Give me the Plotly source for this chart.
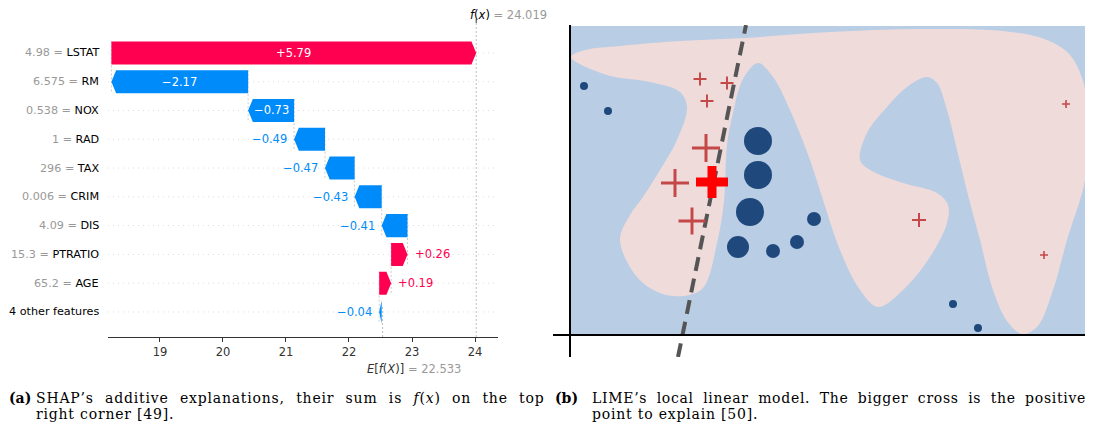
import plotly.graph_objects as go

# ---------------- SHAP waterfall data ----------------
features = ["LSTAT", "RM", "NOX", "RAD", "TAX", "CRIM", "DIS", "PTRATIO", "AGE", "4 other features"]
feature_values = ["4.98", "6.575", "0.538", "1", "296", "0.006", "4.09", "15.3", "65.2", ""]
shap_values = [5.79, -2.17, -0.73, -0.49, -0.47, -0.43, -0.41, 0.26, 0.19, -0.04]
base_value = 22.533
fx_value = 24.019
x_ticks = [19, 20, 21, 22, 23, 24]

# ---------------- LIME illustration data ----------------
region_x = [1, 15, 50, 110, 175, 260, 350, 433, 477, 500, 513, 518, 518, 514, 497, 483, 467, 452, 437, 423,
            410, 398, 387, 377, 367, 357, 337, 317, 297, 290, 300, 333, 367, 378, 377, 360, 333, 308, 290, 270,
            253, 240, 220, 203, 188, 173, 163, 157, 154, 147, 133, 113, 90, 67, 50, 60, 73, 90, 107, 117,
            110, 80, 37]
region_y = [278, 285, 289, 294, 297, 303, 306, 304, 295, 280, 254, 220, 185, 150, 95, 45, 8, 1, 14, 45,
            95, 140, 185, 225, 252, 258, 248, 228, 202, 175, 165, 152, 142, 130, 112, 78, 45, 28, 45, 85,
            135, 175, 225, 258, 272, 256, 222, 190, 134, 92, 47, 39, 42, 58, 95, 120, 138, 165, 195, 228,
            243, 253, 260]
neg_x = [14, 38, 188, 188, 180, 168, 203, 227, 244, 383, 408]
neg_y = [249, 224, 194, 160, 123, 88, 84, 93, 116, 31, 7]
neg_weight = [4, 4, 14, 14, 14, 11, 7, 7, 7, 4, 4]
pos_x = [130, 157, 137, 136, 105, 122, 349, 474, 496]
pos_y = [256, 252, 234, 187, 152, 114, 115, 80, 231]
pos_weight = [13, 13, 13, 28, 28, 27, 14, 8, 8]
explained_x = [142]
explained_y = [153]
explained_weight = [32]
linear_x = [108, 176]
linear_y = [-22, 310]

PINK = "#ff0051"
BLUE = "#008bfb"
OFF = 8                      # page body margin
W, H = 1093 - OFF, 427 - OFF


def px(x):
    return (x - OFF) / W


def py(y):
    return 1 - (y - OFF) / H


fig = go.Figure()

# ---------- left panel ----------
n = len(features)
rows = list(range(n - 1, -1, -1))
HL = 0.075
HALF = 0.4
loc = fx_value
starts, ends = [], []
for v in shap_values:
    ends.append(loc)
    starts.append(loc - v)
    loc -= v

for i, v in enumerate(shap_values):
    s, e, y = starts[i], ends[i], rows[i]
    hl = min(abs(v), HL)
    d = hl if v > 0 else -hl
    xs = [s, e - d, e, e - d, s, s]
    ys = [y - HALF, y - HALF, y, y + HALF, y + HALF, y - HALF]
    col = PINK if v > 0 else BLUE
    fig.add_trace(go.Scatter(x=xs, y=ys, fill="toself", fillcolor=col, mode="lines",
                             line=dict(width=0, color=col), hoverinfo="skip", showlegend=False,
                             xaxis="x", yaxis="y"))
    txt = ("+" if v > 0 else "\u2212") + f"{abs(v):.2f}"
    if abs(v) > 0.6:
        fig.add_annotation(x=(s + e) / 2, y=y, xref="x", yref="y", text=txt, showarrow=False,
                           xanchor="center", yanchor="middle",
                           font=dict(size=11.5, color="white"))
    else:
        fig.add_annotation(x=e, y=y, xref="x", yref="y", text=txt, showarrow=False,
                           xanchor="left" if v > 0 else "right", yanchor="middle",
                           xshift=5 if v > 0 else -5,
                           font=dict(size=11.5, color=col))
    fig.add_shape(type="line", xref="x domain", yref="y", x0=0, x1=1, y0=y, y1=y,
                  line=dict(color="#dddddd", width=1, dash="1px,4px"), layer="below")
    if i < n - 1:
        fig.add_shape(type="line", xref="x", yref="y", x0=starts[i], x1=starts[i],
                      y0=y + HALF, y1=y - 1 - HALF,
                      line=dict(color="#cccccc", width=1, dash="2px,2px"), layer="below")
    label = (f"<span style='color:#999999'>{feature_values[i]} = </span>{features[i]}"
             if feature_values[i] else features[i])
    fig.add_annotation(x=0, y=y, xref="x domain", yref="y", text=label, showarrow=False,
                       xanchor="right", yanchor="middle", xshift=-7,
                       font=dict(size=11.2, color="black"))

fig.add_shape(type="line", xref="x", yref="y domain", x0=fx_value, x1=fx_value, y0=0, y1=1,
              line=dict(color="#bbbbbb", width=1, dash="2px,2px"), layer="below")
fig.add_shape(type="line", xref="x", yref="y domain", x0=base_value, x1=base_value, y0=0, y1=1 / n,
              line=dict(color="#bbbbbb", width=1, dash="2px,2px"), layer="below")
fig.add_shape(type="line", xref="x", yref="y domain", x0=fx_value, x1=fx_value, y0=1, y1=1.012,
              line=dict(color="#333333", width=1))
fig.add_annotation(x=fx_value, y=py(15), xref="x", yref="paper", xanchor="left", yanchor="middle",
                   xshift=-8,
                   text="<i>f</i>(<i>x</i>) <span style='color:#999999'>= 24.019</span>",
                   showarrow=False, font=dict(size=11.5, color="black"))
fig.add_annotation(x=base_value, y=py(369), xref="x", yref="paper", xanchor="left", yanchor="middle",
                   xshift=-18,
                   text="<i>E</i>[<i>f</i>(<i>X</i>)] <span style='color:#999999'>= 22.533</span>",
                   showarrow=False, font=dict(size=11.5, color="#333333"))

# ---------- right panel ----------
fig.add_shape(type="rect", xref="x2", yref="y2", x0=0, x1=519, y0=0, y1=309,
              fillcolor="#b9cde4", line=dict(width=0), layer="below")
fig.add_trace(go.Scatter(x=region_x + region_x[:1], y=region_y + region_y[:1], fill="toself",
                         fillcolor="#f0dbdb", mode="lines",
                         line=dict(width=0, shape="spline", smoothing=1, color="#f0dbdb"),
                         hoverinfo="skip", showlegend=False, xaxis="x2", yaxis="y2"))
fig.add_trace(go.Scatter(x=linear_x, y=linear_y, mode="lines",
                         line=dict(color="#555555", width=4, dash="14px,8px"),
                         hoverinfo="skip", showlegend=False, xaxis="x2", yaxis="y2"))
fig.add_trace(go.Scatter(x=neg_x, y=neg_y, mode="markers", opacity=1,
                         marker=dict(color="#1f497d", opacity=1, size=[2 * w for w in neg_weight],
                                     line=dict(width=0)),
                         hoverinfo="skip", showlegend=False, xaxis="x2", yaxis="y2"))
fig.add_trace(go.Scatter(x=pos_x, y=pos_y, mode="markers", opacity=1,
                         marker=dict(symbol="cross-thin", opacity=1, size=[w / 1.4 for w in pos_weight],
                                     line=dict(color="#c44848", width=[1 + w / 14 for w in pos_weight])),
                         hoverinfo="skip", showlegend=False, xaxis="x2", yaxis="y2"))
fig.add_trace(go.Scatter(x=explained_x, y=explained_y, mode="markers", opacity=1,
                         marker=dict(symbol="cross-thin", opacity=1,
                                     size=[w / 1.4 for w in explained_weight],
                                     line=dict(color="#ff0000", width=9)),
                         hoverinfo="skip", showlegend=False, xaxis="x2", yaxis="y2"))
fig.add_shape(type="line", xref="x2", yref="y2 domain", x0=0, x1=0, y0=0, y1=1,
              line=dict(color="black", width=2), layer="above")
fig.add_shape(type="line", xref="x2 domain", yref="y2", x0=0, x1=1, y0=0, y1=0,
              line=dict(color="black", width=2), layer="above")

# ---------- captions ----------
cap_font = dict(family="DejaVu Serif", size=14, color="black")


def caption(x, y, text):
    fig.add_annotation(x=px(x), y=py(y), xref="paper", yref="paper", xanchor="left", yanchor="middle",
                       text=text, showarrow=False, font=cap_font)


caption(7, 398, "<b>(a)</b>")
caption(34, 398, "<span style='letter-spacing:0.8px;word-spacing:6.1px'>SHAP\u2019s additive explanations, "
                 "their sum is <i>f</i>(<i>x</i>) on the top</span>")
caption(34, 414, "<span style='letter-spacing:0.8px'>right corner [49].</span>")
caption(553, 398, "<b>(b)</b>")
caption(590, 398, "<span style='letter-spacing:0.7px;word-spacing:4.3px'>LIME\u2019s local linear model. "
                  "The bigger cross is the positive</span>")
caption(590, 414, "<span style='letter-spacing:0.8px'>point to explain [50].</span>")

fig.update_layout(
    width=W, height=H, margin=dict(l=0, r=0, t=0, b=0),
    paper_bgcolor="white", plot_bgcolor="white",
    font=dict(family="DejaVu Sans", color="black"),
    showlegend=False,
    xaxis=dict(domain=[px(108), px(498)], range=[18.175, 24.365], tickvals=x_ticks, ticks="outside",
               ticklen=4, tickcolor="#333333", showline=True, linecolor="#333333", linewidth=1,
               showgrid=False, zeroline=False, tickfont=dict(size=11.5, color="#333333"), anchor="y"),
    yaxis=dict(domain=[py(337), py(23)], range=[-0.87, 10.04], visible=False, anchor="x"),
    xaxis2=dict(domain=[px(553), px(1089)], range=[-17, 519], visible=False, anchor="y2"),
    yaxis2=dict(domain=[py(357), py(25)], range=[-22, 310], visible=False, anchor="x2"),
)

fig.write_html("out.html")
